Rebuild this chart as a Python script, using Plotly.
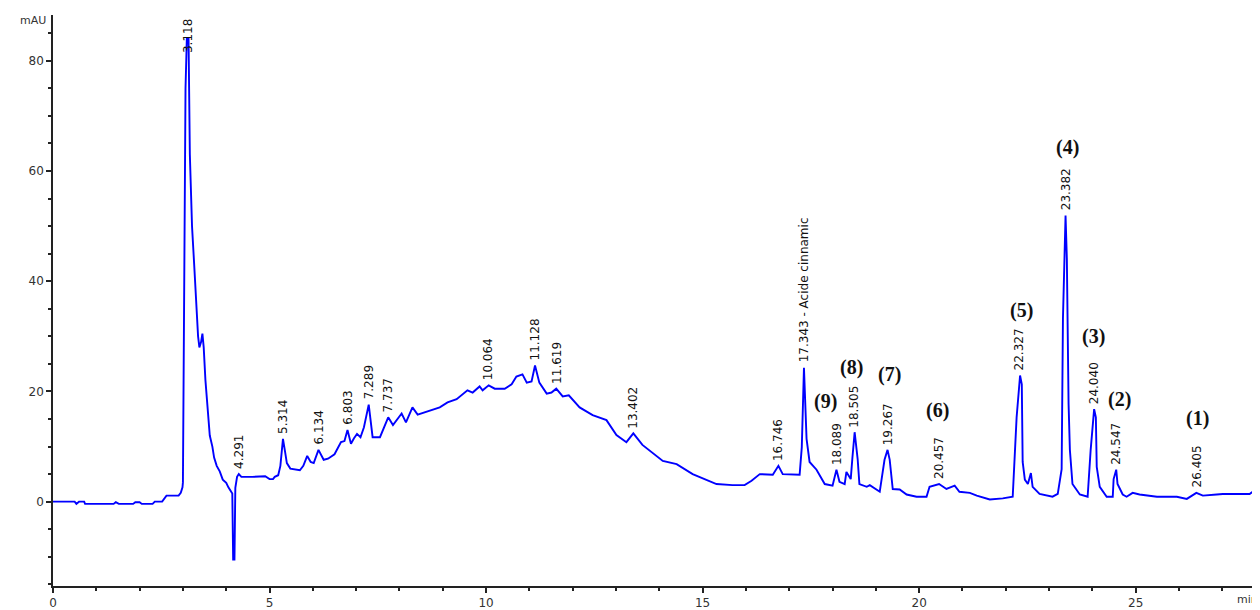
import numpy as np
import plotly.graph_objects as go

# ---- chromatogram data (time in min, absorbance in mAU) ----
t_baseline = [0.00, 0.50, 0.54, 0.60, 0.72, 0.74, 1.40, 1.45, 1.52, 1.85, 1.90, 2.00, 2.05, 2.30, 2.35, 2.52, 2.62, 2.90, 2.95, 2.99]
y_baseline = [0.0, 0.0, -0.4, 0.0, 0.0, -0.4, -0.4, -0.1, -0.4, -0.4, -0.1, -0.1, -0.4, -0.4, 0.0, 0.0, 1.1, 1.1, 1.6, 2.6]

t_solvent = [3.00, 3.03, 3.06, 3.09, 3.13, 3.16, 3.21, 3.26, 3.30, 3.35, 3.38, 3.42, 3.45, 3.48, 3.52, 3.57, 3.62, 3.68, 3.72, 3.78, 3.85, 3.92, 4.00, 4.05, 4.10, 4.14, 4.16, 4.19, 4.21, 4.25, 4.29]
y_solvent = [3.5, 37.0, 75.0, 84.0, 84.0, 63.0, 50.0, 43.0, 36.0, 30.0, 28.0, 29.0, 30.5, 28.0, 22.0, 17.0, 12.0, 10.0, 8.0, 6.5, 5.5, 4.0, 3.4, 2.6, 2.0, 1.5, -10.5, -10.5, 2.5, 4.5, 5.0]

t_early = [4.35, 4.60, 4.90, 5.00, 5.08, 5.12, 5.20, 5.25, 5.31, 5.36, 5.40, 5.48, 5.60, 5.70, 5.78, 5.87, 5.95, 6.02, 6.13, 6.25, 6.35, 6.50, 6.65, 6.73, 6.80, 6.88, 6.95, 7.02, 7.10, 7.18, 7.29, 7.38, 7.55, 7.62, 7.74, 7.85, 8.05, 8.15, 8.30, 8.42, 8.60, 8.77]
y_early = [4.5, 4.5, 4.6, 4.1, 4.1, 4.5, 4.8, 6.5, 11.4, 9.0, 7.0, 6.0, 5.9, 5.7, 6.5, 8.3, 7.2, 7.0, 9.4, 7.6, 7.8, 8.6, 10.8, 11.0, 13.0, 10.5, 11.5, 12.3, 11.7, 13.5, 17.6, 11.7, 11.7, 13.0, 15.3, 13.9, 16.0, 14.4, 17.1, 15.8, 16.3, 16.8]

t_hump = [8.93, 9.11, 9.32, 9.57, 9.69, 9.85, 9.92, 10.06, 10.20, 10.43, 10.59, 10.70, 10.84, 10.94, 11.05, 11.13, 11.23, 11.40, 11.51, 11.62, 11.77, 11.91, 12.16, 12.46, 12.78, 13.01, 13.24, 13.40, 13.61, 14.08, 14.40, 14.77, 15.09, 15.32, 15.69, 15.97]
y_hump = [17.1, 18.0, 18.6, 20.2, 19.8, 20.9, 20.2, 21.1, 20.5, 20.5, 21.3, 22.7, 23.1, 21.6, 21.8, 24.7, 21.6, 19.6, 19.8, 20.5, 19.1, 19.3, 17.1, 15.7, 14.8, 12.1, 10.8, 12.4, 10.3, 7.4, 6.8, 5.0, 4.0, 3.2, 3.0, 3.0]

t_middle = [16.13, 16.32, 16.62, 16.75, 16.85, 17.06, 17.24, 17.29, 17.34, 17.40, 17.47, 17.63, 17.82, 18.00, 18.09, 18.16, 18.28, 18.32, 18.42, 18.46, 18.51, 18.58, 18.62, 18.79, 18.86, 19.09, 19.20, 19.27, 19.32, 19.39, 19.55, 19.71, 19.94, 20.17, 20.24, 20.46, 20.63, 20.82, 20.93, 21.17, 21.33, 21.63, 21.93, 22.16]
y_middle = [3.8, 5.0, 4.9, 6.5, 5.0, 5.0, 4.9, 9.9, 24.3, 11.4, 7.2, 5.8, 3.2, 2.9, 5.8, 3.6, 3.2, 5.4, 4.1, 8.1, 12.6, 7.7, 3.2, 2.7, 3.0, 1.8, 7.6, 9.4, 7.6, 2.3, 2.2, 1.3, 0.9, 0.9, 2.7, 3.2, 2.3, 2.9, 1.8, 1.6, 1.1, 0.4, 0.6, 0.9]

t_late = [22.25, 22.33, 22.37, 22.39, 22.44, 22.51, 22.58, 22.62, 22.78, 23.08, 23.20, 23.29, 23.32, 23.38, 23.41, 23.45, 23.48, 23.54, 23.71, 23.89, 23.96, 24.04, 24.08, 24.10, 24.17, 24.33, 24.47, 24.49, 24.55, 24.58, 24.70, 24.79, 24.93, 25.09, 25.49, 25.95, 26.18, 26.40, 26.55, 26.87, 27.01, 27.63, 27.79, 27.87]
y_late = [15.3, 22.9, 21.3, 7.2, 4.0, 3.2, 5.2, 2.7, 1.4, 0.9, 1.4, 5.9, 33.3, 51.9, 44.1, 17.7, 9.4, 3.2, 1.3, 0.9, 9.4, 16.8, 15.3, 6.3, 2.7, 0.9, 0.9, 4.1, 5.8, 3.2, 1.3, 0.9, 1.6, 1.3, 0.9, 0.9, 0.5, 1.6, 1.1, 1.3, 1.4, 1.4, 2.3, 2.4]

# ---- peak annotations ----
peak_rt = [3.118, 4.291, 5.314, 6.134, 6.803, 7.289, 7.737, 10.064, 11.128, 11.619, 13.402,
           16.746, 17.343, 18.089, 18.505, 19.267, 20.457, 22.327, 23.382, 24.040, 24.547, 26.405]
peak_text = ["3.118", "4.291", "5.314", "6.134", "6.803", "7.289", "7.737", "10.064", "11.128", "11.619", "13.402",
             "16.746", "17.343 - Acide cinnamic", "18.089", "18.505", "19.267", "20.457", "22.327", "23.382",
             "24.040", "24.547", "26.405"]

compound_labels = ["(9)", "(8)", "(7)", "(6)", "(5)", "(4)", "(3)", "(2)", "(1)"]
compound_x = [17.84, 18.44, 19.32, 20.43, 22.37, 23.43, 24.03, 24.63, 26.43]
compound_y = [18.2, 24.3, 23.1, 16.6, 34.6, 64.3, 29.9, 18.6, 15.1]

y_ticks = [0, 20, 40, 60, 80]
x_ticks = [0, 5, 10, 15, 20, 25]

time_min = np.array(t_baseline + t_solvent + t_early + t_hump + t_middle + t_late)
signal = np.array(y_baseline + y_solvent + y_early + y_hump + y_middle + y_late)

fig = go.Figure()
fig.add_trace(go.Scatter(x=time_min, y=signal, mode="lines",
                         line=dict(color="#0000FF", width=1.9), hoverinfo="skip"))

annotations = []
for rt, txt in zip(peak_rt, peak_text):
    win = (time_min > rt - 0.07) & (time_min < rt + 0.07)
    top = signal[win].max() if win.any() else np.interp(rt, time_min, signal)
    top = min(top, 80.5)
    annotations.append(dict(x=rt, y=top, xref="x", yref="y", text=txt, showarrow=False,
                            textangle=-90, xanchor="center", yanchor="bottom", yshift=4,
                            borderpad=0,
                            font=dict(family="DejaVu Sans", size=12, color="#111111")))

for lab, cx, cy in zip(compound_labels, compound_x, compound_y):
    annotations.append(dict(x=cx, y=cy, xref="x", yref="y", text="<b>" + lab + "</b>",
                            showarrow=False, xanchor="center", yanchor="middle",
                            font=dict(family="Liberation Serif", size=20, color="#111111")))

annotations.append(dict(x=-0.0166, y=0.991, xref="paper", yref="paper", text="mAU", showarrow=False,
                        xanchor="center", yanchor="middle",
                        font=dict(family="DejaVu Sans", size=11, color="#333333")))
annotations.append(dict(x=0.999, y=-0.024, xref="paper", yref="paper", text="min", showarrow=False,
                        xanchor="right", yanchor="middle", borderpad=0,
                        font=dict(family="DejaVu Sans", size=11, color="#333333")))

# page body has an 8px default margin: size/margins compensate so the plot area
# spans x 53..1260 and y 15..590 in the 1260x610 window
fig.update_layout(
    width=1252, height=602, autosize=False,
    margin=dict(l=45, r=0, t=7, b=20),
    plot_bgcolor="white", paper_bgcolor="white",
    showlegend=False,
    annotations=annotations,
)
fig.update_xaxes(range=[0, 27.87], tickvals=x_ticks, ticks="outside", ticklen=5, tickwidth=1.5,
                 tickcolor="#222222", showline=True, linecolor="#222222", linewidth=1.5,
                 showgrid=False, zeroline=False,
                 minor=dict(dtick=1, ticks="outside", ticklen=3, tickwidth=1.5, tickcolor="#222222"),
                 tickfont=dict(family="DejaVu Sans", size=12, color="#333333"))
fig.update_yaxes(range=[-15.3, 88.3], tickvals=y_ticks, ticks="outside", ticklen=5, tickwidth=1.5,
                 tickcolor="#222222", showline=True, linecolor="#222222", linewidth=1.5,
                 showgrid=False, zeroline=False,
                 minor=dict(tick0=0, dtick=5, ticks="outside", ticklen=3, tickwidth=1.5, tickcolor="#222222"),
                 tickfont=dict(family="DejaVu Sans", size=12, color="#333333"))

fig.write_html("out.html")
